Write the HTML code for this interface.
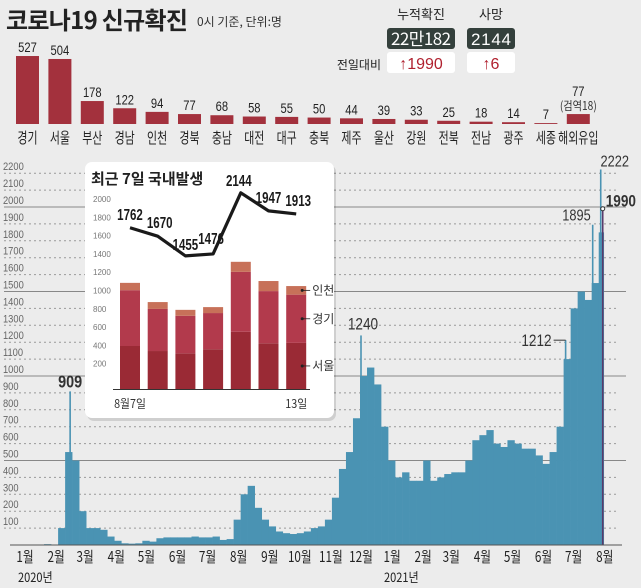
<!DOCTYPE html>
<html><head><meta charset="utf-8">
<style>
html,body{margin:0;padding:0;background:#ececec;}
svg{display:block;font-family:"Liberation Sans","Noto Sans CJK KR",sans-serif;}
.k{font-family:"Noto Sans CJK KR","Liberation Sans",sans-serif;}
</style></head>
<body>
<svg id="chart" width="641" height="588" viewBox="0 0 641 588" xmlns="http://www.w3.org/2000/svg">
<rect width="641" height="588" fill="#ececec"/>
<text class="k" x="6" y="29" font-size="24" font-weight="bold" fill="#222" textLength="182">코로나19 신규확진</text>
<text class="k" x="197" y="26" font-size="12" fill="#333">0시 기준, 단위:명</text>
<text class="k" x="421" y="19" font-size="13" text-anchor="middle" fill="#222">누적확진</text>
<text class="k" x="491" y="19" font-size="13" text-anchor="middle" fill="#222">사망</text>
<rect x="387" y="28" width="68" height="21" rx="3" fill="#34403c"/>
<rect x="467" y="28" width="48" height="21" rx="3" fill="#34403c"/>
<text x="421" y="45" font-size="17" text-anchor="middle" fill="#fff" class="k" textLength="60">22만182</text>
<text x="491" y="45" font-size="17" text-anchor="middle" fill="#fff" textLength="40">2144</text>
<text class="k" x="381" y="69" font-size="12" text-anchor="end" fill="#222">전일대비</text>
<rect x="387" y="52" width="68" height="21" rx="3" fill="#fff"/>
<rect x="467" y="52" width="48" height="21" rx="3" fill="#fff"/>
<text x="421" y="69" font-size="16" text-anchor="middle" fill="#b0202e">↑1990</text>
<text x="491" y="69" font-size="16" text-anchor="middle" fill="#b0202e">↑6</text>
<g id="regions"></g>
<g id="main"></g>
<g id="inset"></g>
</svg>
<script>
const NS='http://www.w3.org/2000/svg';
function mk(tag,attrs,parent,text){const e=document.createElementNS(NS,tag);for(const k in attrs)e.setAttribute(k,attrs[k]);if(text!==undefined)e.textContent=text;parent.appendChild(e);return e;}

// ---- regional bar data ----
const regionNames=['경기','서울','부산','경남','인천','경북','충남','대전','대구','충북','제주','울산','강원','전북','전남','광주','세종','해외유입'];
const regionValues=[527,504,178,122,94,77,68,58,55,50,44,39,33,25,18,14,7,77];

// ---- main daily series (weekly bins from 2020-01-20) ----
const weekValues=[3,3,5,3,100,550,500,200,100,100,90,50,25,10,8,10,25,20,40,45,45,45,45,50,45,45,50,30,35,150,300,350,220,150,110,80,70,65,70,80,100,110,150,280,450,550,750,1000,1050,950,700,500,400,430,380,380,500,380,400,420,430,430,500,620,650,680,600,580,620,600,570,570,530,480,550,700,1100,1400,1500,1450,1550,1850];
const startDay=19;
const endDay=590;
const peakLabels=['909','1240','1212','1895','2222','1990'];
const peakValues=[909,1240,1212,1895,2222,1990];
const peakDays=[59,349,553,580,588,590];
const yTicks=[100,200,300,400,500,600,700,800,900,1000,1100,1200,1300,1400,1500,1600,1700,1800,1900,2000,2100,2200];
const monthLabels=['1월','2월','3월','4월','5월','6월','7월','8월','9월','10월','11월','12월','1월','2월','3월','4월','5월','6월','7월','8월'];
const monthStarts=[0,31,60,91,121,152,182,213,244,274,305,335,366,397,425,456,486,517,547,578];

// ---- inset data ----
const insetDays=['8월7일','','','','','','13일'];
const insetTotal=[1762,1670,1455,1476,2144,1947,1913];
const insetSeoul=[470,415,390,435,625,500,504];
const insetGyeonggi=[610,460,410,395,655,570,527];
const insetIncheon=[80,75,65,65,110,110,94];
const insetTicks=[200,400,600,800,1000,1200,1400,1600,1800,2000];

// regions
const rg=document.getElementById('regions');
const rBase=124, rScale=0.129;
const rx=i=>16+i*32.4;
regionValues.forEach((v,i)=>{
  const h=v*rScale;
  const cx=rx(i)+11.5;
  const b=mk('rect',{x:rx(i),y:rBase-h,width:23,height:h,fill:'#a3313d'},rg);
  
  
  const t=mk('text',{x:cx,y:rBase-h-4-(i===17?14:0),'font-size':14,'text-anchor':'middle',fill:'#222',transform:`translate(${cx*0.2},0) scale(0.8,1)`},rg,String(v));
  
  
  const l=mk('text',{x:cx,y:143,'font-size':15,'text-anchor':'middle',fill:'#222',class:'k',transform:`translate(${cx*0.27},0) scale(0.73,1)`},rg,regionNames[i]);
  
  
});
const q=mk('text',{x:rx(17)+11.5,y:110,'font-size':12,'text-anchor':'middle',fill:'#333',class:'k',transform:`translate(${(rx(17)+11.5)*0.15},0) scale(0.85,1)`},rg,'(검역18)');



// main chart
const mg=document.getElementById('main');
const X=d=>25+(d-14)*1.003;
const Y=v=>545-v*0.169;
yTicks.forEach(v=>{
  const solid=(v%500===0);
  const ln=mk('line',{x1:4,x2:solid?626:618,y1:Y(v),y2:Y(v),stroke:solid?'#888':'#999','stroke-width':1,'stroke-dasharray':solid?'':'2,3'},mg);
  
  
  const t=mk('text',{x:3,y:Y(v)-3,'font-size':11,fill:'#666',transform:`translate(${3*0.15},0) scale(0.85,1)`},mg,String(v));
  
  
});
weekValues.forEach((v,i)=>{
  const d0=startDay+i*7, d1=Math.min(d0+7,endDay+1);
  const b=mk('rect',{x:X(d0),y:Y(v),width:X(d1)-X(d0)+0.3,height:545-Y(v),fill:'#4a93b3'},mg);
  
  
});
peakValues.forEach((v,i)=>{
  const s=mk('rect',{x:X(peakDays[i])-0.8,y:Y(v),width:1.6,height:545-Y(v),fill:i===5?'#5a3a6a':'#4a93b3'},mg);
  
  
});
const pk=[[X(peakDays[0]),Y(909)-4,'middle',18],[X(peakDays[1])+2,Y(1240)-6,'middle',17],[X(peakDays[2])-14,Y(1212)+6,'end',17],[X(peakDays[3])-2,Y(1895)-4,'end',16],[X(peakDays[4])+14,Y(2222)-3,'middle',16],[X(peakDays[5])+3,Y(1990)-2,'start',17]];
peakLabels.forEach((s,i)=>{
  const p=pk[i];
  const t=mk('text',{x:p[0],y:p[1],'font-size':p[3],'text-anchor':p[2],fill:'#333','font-weight':(i===0||i===5)?'bold':'normal',transform:`translate(${p[0]*0.2},0) scale(0.8,1)`},mg,s);
  
  
});
const dash=mk('line',{x1:X(peakDays[2])-12,x2:X(peakDays[2]),y1:Y(1212),y2:Y(1212),stroke:'#333','stroke-width':1},mg);


const dot=mk('circle',{cx:X(endDay),cy:Y(1990),r:2,fill:'#fff',stroke:'#333'},mg);


const ax=mk('line',{x1:10,x2:622,y1:545,y2:545,stroke:'#555','stroke-width':1},mg);


monthLabels.forEach((m,i)=>{
  const x=X(monthStarts[i]+14);
  const t=mk('text',{x:x,y:562,'font-size':15,'text-anchor':'middle',fill:'#222',class:'k',transform:`translate(${x*0.22},0) scale(0.78,1)`},mg,m);
  
  
});
[['2020년',18],['2021년',384]].forEach((a,i)=>{
  const t=mk('text',{x:a[1],y:582,'font-size':13,fill:'#222',class:'k',transform:`translate(${a[1]*0.15},0) scale(0.85,1)`},mg,a[0]);
  
  
});

// inset
const ig=document.getElementById('inset');
const sh=mk('rect',{x:87,y:165,width:249,height:256,rx:7,fill:'#000',opacity:0.12},ig);


const box=mk('rect',{x:85,y:162,width:249,height:256,rx:7,fill:'#fff'},ig);


const it=mk('text',{x:91,y:184,'font-size':15,'font-weight':'bold',fill:'#222',class:'k'},ig,'최근 7일 국내발생');


const IY=v=>389-v*0.0915;
const IX=i=>120+i*27.7;
insetTicks.forEach(v=>{
  const t=mk('text',{x:93,y:IY(v)-4,'font-size':8,fill:'#777'},ig,String(v));
  
  
});
insetTotal.forEach((tot,i)=>{
  const s=insetSeoul[i],g=insetGyeonggi[i],c=insetIncheon[i];
  const segs=[[0,s,'#9a2a35','seoul'],[s,s+g,'#b23a4c','gyeonggi'],[s+g,s+g+c,'#c77159','incheon']];
  segs.forEach(sg=>{
    const r=mk('rect',{x:IX(i),y:IY(sg[1]),width:20,height:IY(sg[0])-IY(sg[1]),fill:sg[2]},ig);
    
    
  });
});
const bl=mk('line',{x1:113,x2:310,y1:389.5,y2:389.5,stroke:'#333','stroke-width':1},ig);


const pts=insetTotal.map((v,i)=>(IX(i)+10)+','+IY(v)).join(' ');
const pl=mk('polyline',{points:pts,fill:'none',stroke:'#1a1a1a','stroke-width':3.2,'stroke-linejoin':'round'},ig);


const lo=[[0,-8],[2,-8],[0,-6],[-2,-10],[-2,-7],[0,-8],[2,-8]];
insetTotal.forEach((v,i)=>{
  const x=IX(i)+10+lo[i][0];
  const t=mk('text',{x:x,y:IY(v)+lo[i][1],'font-size':16,'font-weight':'bold','text-anchor':'middle',fill:'#1a1a1a',transform:`translate(${x*0.28},0) scale(0.72,1)`},ig,String(v));
  
  
});
insetDays.forEach((d,i)=>{
  if(!d)return;
  const x=IX(i)+10;
  const t=mk('text',{x:x,y:408,'font-size':12,'text-anchor':'middle',fill:'#333',class:'k',transform:`translate(${x*0.1},0) scale(0.9,1)`},ig,d);
  
  
});
const last=insetTotal.length-1;
[['인천',insetSeoul[last]+insetGyeonggi[last]+insetIncheon[last]/2],['경기',insetSeoul[last]+insetGyeonggi[last]/2],['서울',insetSeoul[last]/2]].forEach((a,k)=>{
  const y=IY(a[1]);
  const d=mk('circle',{cx:IX(last)+16,cy:y,r:1.5,fill:'#222'},ig);
  
  
  const l=mk('line',{x1:IX(last)+16,x2:IX(last)+24,y1:y,y2:y,stroke:'#222','stroke-width':0.8},ig);
  
  
  const t=mk('text',{x:IX(last)+26,y:y+4,'font-size':12,fill:'#333',class:'k'},ig,a[0]);
  
  
});
</script>
</body></html>
